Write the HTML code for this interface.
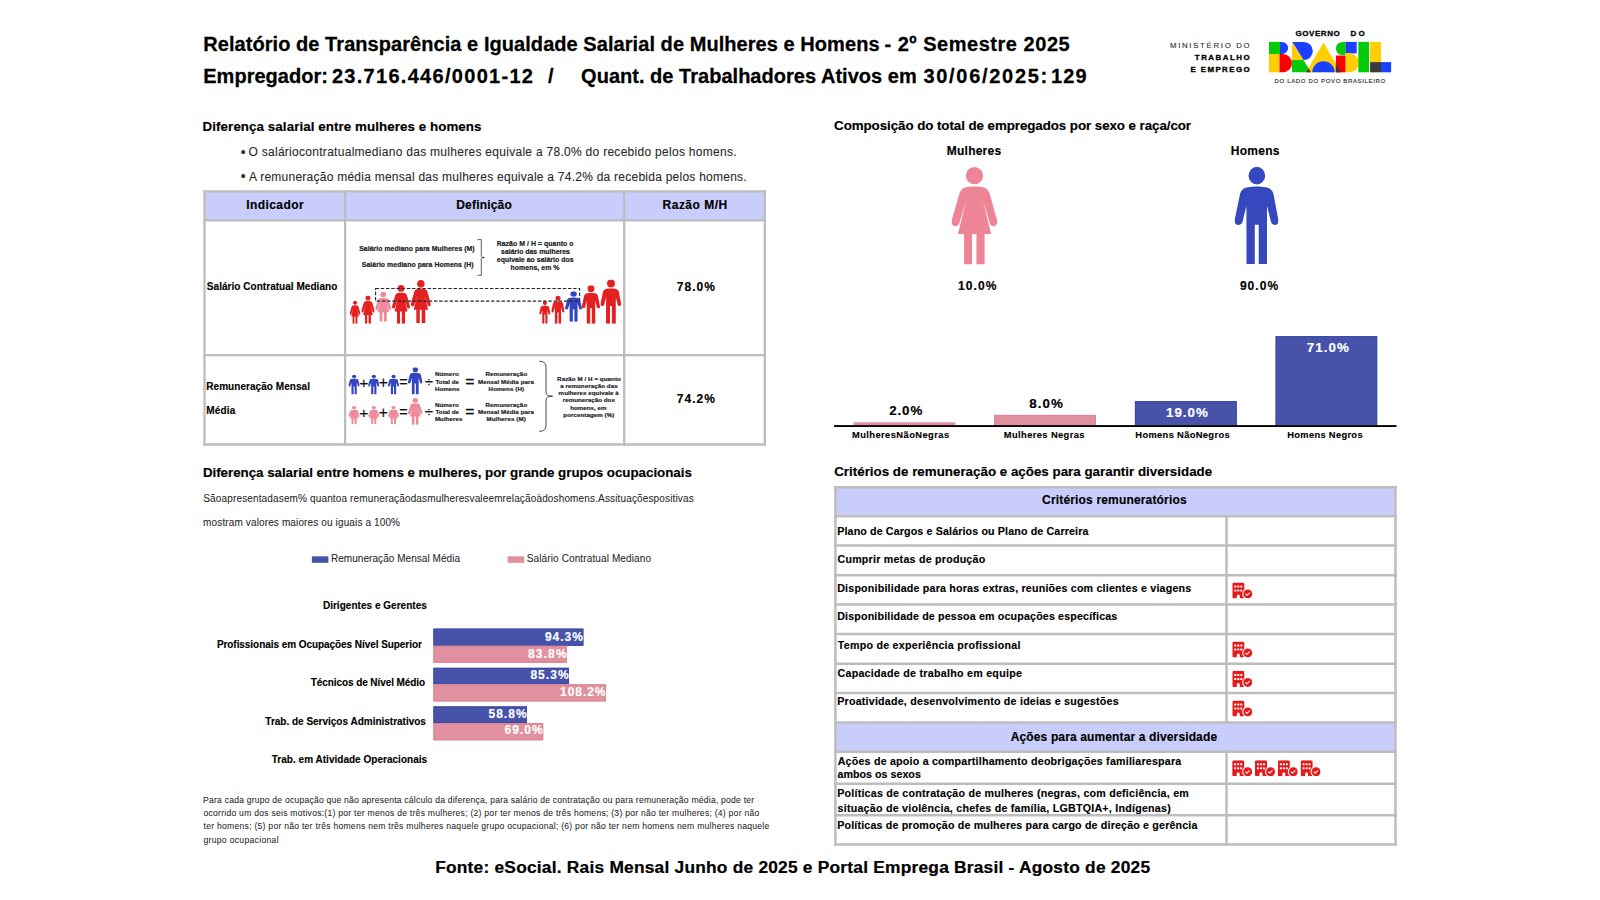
<!DOCTYPE html>
<html lang="pt-BR"><head><meta charset="utf-8"><title>Relatório de Transparência e Igualdade Salarial</title>
<style>
html,body{margin:0;padding:0;background:#fff;}
body{width:1600px;height:900px;position:relative;overflow:hidden;font-family:"Liberation Sans",Arial,sans-serif;}
.gfx{position:absolute;left:0;top:0;}
.t{position:absolute;white-space:pre;line-height:1;margin:0;padding:0;}
.b{font-weight:700;-webkit-text-stroke:0.013em currentColor}
.r{-webkit-text-stroke:0.008em currentColor}
</style></head><body>
<svg class="gfx" width="1600" height="900" viewBox="0 0 1600 900" role="img" aria-label="Relatório">
<defs>
<symbol id="woman" viewBox="951.42 167.05 45.85 97.45" preserveAspectRatio="none">
<ellipse cx="974.5" cy="175.65" rx="8.6" ry="8.6"/>
<path d="M 974.55 186.6 C 980.5 186.6 985 187.4 986.8 189 C 988.4 190.4 989.3 192.2 990 194.7 L 996.9 219.8 C 998.1 223.8 996.2 226.2 993.3 226.2 C 991.2 226.2 990.2 224.8 989.6 222.6 L 983 200.3 L 991.1 234 L 984.6 234 L 984.6 264.5 L 976.4 264.5 L 976.4 234 L 972 234 L 972 264.5 L 964.1 264.5 L 964.1 234 L 958 234 L 966.1 200.3 L 959.5 222.6 C 958.9 224.8 957.9 226.2 955.8 226.2 C 952.7 226.2 950.5 223.8 951.8 219.8 L 959.1 194.7 C 959.8 192.2 960.7 190.4 962.3 189 C 964.1 187.4 968.6 186.6 974.55 186.6 Z"/>
</symbol>
<symbol id="man" viewBox="1234.50 166.85 44.01 97.05" preserveAspectRatio="none">
<ellipse cx="1256.85" cy="175.65" rx="8.3" ry="8.8"/>
<path d="M 1256.75 186.6 C 1263.5 186.6 1268.5 187.6 1270.6 189.3 C 1272.4 190.7 1273.2 192.6 1273.7 195.2 L 1278.4 220 C 1279 223.2 1277.2 224.9 1274.9 224.9 C 1272.8 224.9 1271.4 223.8 1270.9 221.6 L 1267 205.8 L 1267 263.9 L 1258.7 263.9 L 1258.7 224.8 L 1254.8 224.8 L 1254.8 263.9 L 1246.45 263.9 L 1246.45 205.8 L 1242.6 221.6 C 1242.1 223.8 1240.7 224.9 1238.6 224.9 C 1236.3 224.9 1234 223.2 1234.6 220 L 1239.8 195.2 C 1240.3 192.6 1241.1 190.7 1242.9 189.3 C 1245 187.6 1250 186.6 1256.75 186.6 Z"/>
</symbol>
<symbol id="bcc" viewBox="0 0 640 512">
<path fill="#e51a1a" d="M48 0 H336 Q384 0 384 48 V464 Q384 512 336 512 H240 V432 Q240 384 192 384 Q144 384 144 432 V512 H48 Q0 512 0 464 V48 Q0 0 48 0 Z"/>
<g fill="#fff"><rect x="64" y="96" width="64" height="64" rx="16"/><rect x="160" y="96" width="64" height="64" rx="16"/><rect x="256" y="96" width="64" height="64" rx="16"/><rect x="64" y="224" width="64" height="64" rx="16"/><rect x="160" y="224" width="64" height="64" rx="16"/><rect x="256" y="224" width="64" height="64" rx="16"/></g>
<circle cx="496" cy="368" r="177" fill="#fff"/>
<circle cx="496" cy="368" r="144" fill="#e51a1a"/>
<path d="M428 372 L468 412 L552 336" fill="none" stroke="#fff" stroke-width="34" stroke-linecap="round" stroke-linejoin="round"/>
</symbol>
</defs>
<rect x="204.5" y="191.3" width="560.4" height="29" fill="#c8cdfb"/>
<g stroke="#bdbdbd" stroke-width="2.3" fill="none">
<path d="M203.4 191.35H766"/>
<path d="M203.4 220.3H766"/>
<path d="M203.4 355.2H766"/>
<path d="M203.4 444.5H766"/>
<path d="M204.5 190.2V445.65"/>
<path d="M345.1 190.2V445.65"/>
<path d="M624.2 190.2V445.65"/>
<path d="M764.85 190.2V445.65"/>
</g>
<rect x="835.4" y="487.3" width="560" height="28.9" fill="#c8cdfb"/>
<rect x="835.4" y="722.5" width="560" height="29.3" fill="#c8cdfb"/>
<g stroke="#bdbdbd" stroke-width="2.5" fill="none">
<path d="M834.15 487.3H1397"/>
<path d="M834.15 516.2H1397"/>
<path d="M834.15 545.55H1397"/>
<path d="M834.15 575.2H1397"/>
<path d="M834.15 604.55H1397"/>
<path d="M834.15 634.05H1397"/>
<path d="M834.15 663.8H1397"/>
<path d="M834.15 693.05H1397"/>
<path d="M834.15 722.5H1397"/>
<path d="M834.15 751.85H1397"/>
<path d="M834.15 783.7H1397"/>
<path d="M834.15 815.3H1397"/>
<path d="M834.15 844.6H1397"/>
<path d="M835.4 486.15V845.85"/>
<path d="M1395.45 486.15V845.85"/>
<path d="M1226.5 516.2V722.5M1226.5 751.85V844.6"/>
</g>
<use href="#bcc" x="1232.3" y="582.4" width="20" height="16"/>
<use href="#bcc" x="1232.3" y="641.4" width="20" height="16"/>
<use href="#bcc" x="1232.3" y="670.9" width="20" height="16"/>
<use href="#bcc" x="1232.3" y="700.4" width="20" height="16"/>
<use href="#bcc" x="1232.2" y="760.2" width="20" height="16"/>
<use href="#bcc" x="1255.0" y="760.2" width="20" height="16"/>
<use href="#bcc" x="1277.8" y="760.2" width="20" height="16"/>
<use href="#bcc" x="1300.6" y="760.2" width="20" height="16"/>
<rect x="853.4" y="422.3" width="101.85" height="2.90" fill="#e0909e"/>
<rect x="994.1" y="414.9" width="101.80" height="10.30" fill="#e0909e"/>
<path d="M994.6 425.2V415.4H1095.4V425.2" fill="none" stroke="#db8494" stroke-width="1"/>
<rect x="1134.9" y="401.1" width="101.90" height="24.10" fill="#4653a9"/>
<path d="M1135.4 425.2V401.6H1236.3V425.2" fill="none" stroke="#3b4aa6" stroke-width="1"/>
<rect x="1275.6" y="336.1" width="101.60" height="89.10" fill="#4653a9"/>
<path d="M1276.1 425.2V336.6H1376.7V425.2" fill="none" stroke="#3b4aa6" stroke-width="1"/>
<rect x="834.1" y="425.1" width="562.4" height="1.9" fill="#000"/>
<use href="#woman" x="951.42" y="167.05" width="45.85" height="97.45" fill="#ee8596"/>
<use href="#man" x="1234.50" y="166.85" width="44.01" height="97.05" fill="#3548be"/>
<rect x="433.4" y="628.6" width="150.0" height="17.2" fill="#4653a9"/>
<rect x="433.9" y="629.1" width="149.0" height="16.2" fill="none" stroke="#3b4aa6" stroke-width="1"/>
<rect x="433.4" y="645.8" width="133.6" height="17.0" fill="#e0909e"/>
<rect x="433.9" y="646.3" width="132.6" height="16.0" fill="none" stroke="#db8494" stroke-width="1"/>
<rect x="433.4" y="667.8" width="135.6" height="16.5" fill="#4653a9"/>
<rect x="433.9" y="668.3" width="134.6" height="15.5" fill="none" stroke="#3b4aa6" stroke-width="1"/>
<rect x="433.4" y="684.3" width="172.5" height="17.1" fill="#e0909e"/>
<rect x="433.9" y="684.8" width="171.5" height="16.1" fill="none" stroke="#db8494" stroke-width="1"/>
<rect x="433.4" y="706.4" width="93.6" height="16.7" fill="#4653a9"/>
<rect x="433.9" y="706.9" width="92.6" height="15.7" fill="none" stroke="#3b4aa6" stroke-width="1"/>
<rect x="433.4" y="723.1" width="109.8" height="17.2" fill="#e0909e"/>
<rect x="433.9" y="723.6" width="108.8" height="16.2" fill="none" stroke="#db8494" stroke-width="1"/>
<rect x="311.9" y="556.3" width="16.5" height="6.5" fill="#4653a9"/>
<rect x="507.6" y="556.3" width="16.5" height="6.5" fill="#e0909e"/>
<use href="#woman" x="349.6" y="300.7" width="10.80" height="23.05" fill="#e42020"/>
<use href="#woman" x="361.25" y="295.4" width="13.35" height="28.35" fill="#e42020"/>
<use href="#woman" x="375.2" y="291.9" width="16.05" height="29.80" fill="#ee8a9c"/>
<use href="#woman" x="392" y="285" width="18.00" height="38.75" fill="#e42020"/>
<use href="#woman" x="410.8" y="280" width="20.00" height="43.30" fill="#e42020"/>
<use href="#man" x="539.2" y="301" width="11.20" height="22.75" fill="#e42020"/>
<use href="#man" x="551.25" y="295.7" width="13.35" height="28.05" fill="#e42020"/>
<use href="#man" x="565" y="291.25" width="17.00" height="30.45" fill="#3346c0"/>
<use href="#man" x="581.8" y="285.2" width="18.20" height="38.55" fill="#e42020"/>
<use href="#man" x="600.4" y="279.6" width="20.85" height="44.15" fill="#e42020"/>
<rect x="375.6" y="288.55" width="204" height="12.55" fill="none" stroke="#262626" stroke-width="1.1" stroke-dasharray="3.4 1.8"/>
<path d="M477.5 239.6H481.3V256.3Q481.3 257.5 484.6 257.5Q481.3 257.5 481.3 258.7V275.3H477.5" fill="none" stroke="#333" stroke-width="0.8"/>
<use href="#man" x="348.4" y="374.7" width="11.3" height="19.7" fill="#3346c0"/>
<use href="#woman" x="348.4" y="406" width="11.3" height="18.2" fill="#ee8a9c"/>
<use href="#man" x="368.1" y="374.7" width="11.3" height="19.7" fill="#3346c0"/>
<use href="#woman" x="368.1" y="406" width="11.3" height="18.2" fill="#ee8a9c"/>
<use href="#man" x="387.8" y="374.7" width="11.3" height="19.7" fill="#3346c0"/>
<use href="#woman" x="387.8" y="406" width="11.3" height="18.2" fill="#ee8a9c"/>
<use href="#man" x="407.9" y="367.2" width="14.6" height="27.2" fill="#3346c0"/>
<use href="#woman" x="407.9" y="398.1" width="14.6" height="26.7" fill="#ee8a9c"/>
<path d="M539.3 361.2Q546 361.2 546 367V392.5Q546 396.2 552.6 396.2Q546 396.2 546 400V425.6Q546 431.4 539.3 431.4" fill="none" stroke="#333" stroke-width="0.9"/>
</svg>
<svg class="gfx" width="1600" height="900" viewBox="0 0 1600 900" role="img" aria-label="Governo do Brasil">
<rect x="1269" y="41.9" width="11" height="12.1" fill="#04cb08"/>
<rect x="1269" y="54" width="10.6" height="18.3" fill="#ffce03"/>
<path d="M1280 41.9H1282.1A6.05 6.05 0 0 1 1282.1 54H1280Z" fill="#1b3fff"/>
<path d="M1279.5 54H1282.85A9.15 9.15 0 0 1 1282.85 72.3H1279.5Z" fill="#ff0000"/>
<path d="M1292 42.2L1303.5 60.1H1292Z" fill="#ffce03"/>
<path d="M1292.3 41.9H1303.7A9.1 9.1 0 0 1 1303.7 60.1H1303.6Z" fill="#1b3fff"/>
<path d="M1292 60.1H1303.4L1311 72.3H1292Z" fill="#04cb08"/>
<path d="M1323.5 42.4L1341 72.3H1306Z" fill="#ffce03"/>
<path d="M1308.4 68.2L1311 72.3H1306Z" fill="#3b3b3b"/>
<path d="M1312.3 72.3A11.2 11.2 0 0 1 1334.7 72.3Z" fill="#1b3fff"/>
<path d="M1345.6 41.9V55.06H1342.5A6.58 6.58 0 0 1 1342.5 41.9Z" fill="#04cb08"/>
<rect x="1345.6" y="41.9" width="11.1" height="11.5" fill="#1b3fff"/>
<rect x="1335.9" y="55.5" width="9.8" height="16.8" fill="#ff0000"/>
<path d="M1335.9 63.6L1341 72.3H1335.9Z" fill="#3b3b3b"/>
<path d="M1345.6 53.1H1349.3A9.6 9.6 0 0 1 1349.3 72.3H1345.6Z" fill="#ffce03"/>
<rect x="1358.3" y="41.9" width="10.7" height="30.4" fill="#04cb08"/>
<rect x="1370.1" y="41.9" width="10.9" height="20.2" fill="#ffce03"/>
<rect x="1370.1" y="62.1" width="10.9" height="10.2" fill="#3b3b3b"/>
<rect x="1381" y="62.1" width="10.1" height="10.2" fill="#1b3fff"/>
</svg>

<div class="t b" style="left:203.25px;top:34px;font-size:20px;color:#000000;letter-spacing:0.057px;">Relatório de Transparência e Igualdade Salarial de Mulheres e Homens</div>
<div class="t b" style="left:884.38px;top:34px;font-size:20px;color:#000000;letter-spacing:0.53px;">- 2º Semestre 2025</div>
<div class="t b" style="left:203.25px;top:66px;font-size:20px;color:#000000;letter-spacing:0.02px;">Empregador:</div>
<div class="t b" style="left:331.88px;top:66px;font-size:20px;color:#000000;letter-spacing:1.298px;">23.716.446/0001-12</div>
<div class="t b" style="left:548px;top:66px;font-size:20px;color:#000000;">/</div>
<div class="t b" style="left:581.08px;top:66px;font-size:20px;color:#000000;letter-spacing:0.022px;">Quant. de Trabalhadores Ativos em</div>
<div class="t b" style="left:923.39px;top:66px;font-size:20px;color:#000000;letter-spacing:1.711px;">30/06/2025:</div>
<div class="t b" style="left:1051.05px;top:66px;font-size:20px;color:#000000;letter-spacing:1.089px;">129</div>
<div class="t b" style="left:202.62px;top:120px;font-size:13.33px;color:#000000;letter-spacing:0.081px;">Diferença salarial entre mulheres e homens</div>
<div class="t b" style="left:834.1px;top:119px;font-size:13.33px;color:#000000;letter-spacing:-0.058px;">Composição do total de empregados por sexo e raça/cor</div>
<div class="t b" style="left:202.88px;top:466px;font-size:13.33px;color:#000000;letter-spacing:-0.019px;">Diferença salarial entre homens e mulheres, por grande grupos ocupacionais</div>
<div class="t b" style="left:834.2px;top:465px;font-size:13.33px;color:#000000;letter-spacing:0.016px;">Critérios de remuneração e ações para garantir diversidade</div>
<div class="t r" style="left:240.7px;top:146px;font-size:13.766px;color:#2a2a2a;">•</div>
<div class="t r" style="left:248.44px;top:146px;font-size:12px;color:#2a2a2a;letter-spacing:0.286px;">O saláriocontratualmediano das mulheres equivale a 78.0% do recebido pelos homens.</div>
<div class="t r" style="left:240.7px;top:170px;font-size:13.766px;color:#2a2a2a;">•</div>
<div class="t r" style="left:249px;top:171px;font-size:12px;color:#2a2a2a;letter-spacing:0.248px;">A remuneração média mensal das mulheres equivale a 74.2% da recebida pelos homens.</div>
<div class="t b" style="left:246.15px;top:199px;font-size:12px;color:#000000;letter-spacing:0.439px;">Indicador</div>
<div class="t b" style="left:456.25px;top:199px;font-size:12px;color:#000000;letter-spacing:0.187px;">Definição</div>
<div class="t b" style="left:662.55px;top:199px;font-size:12px;color:#000000;letter-spacing:0.496px;">Razão M/H</div>
<div class="t b" style="left:206.85px;top:282px;font-size:10px;color:#000000;letter-spacing:0.038px;">Salário Contratual Mediano</div>
<div class="t b" style="left:206.28px;top:382px;font-size:10px;color:#000000;letter-spacing:0.051px;">Remuneração Mensal</div>
<div class="t b" style="left:206.28px;top:406px;font-size:10px;color:#000000;letter-spacing:0.155px;">Média</div>
<div class="t b" style="left:676.8px;top:281px;font-size:12px;color:#000000;letter-spacing:1.042px;">78.0%</div>
<div class="t b" style="left:676.8px;top:393px;font-size:12px;color:#000000;letter-spacing:1.042px;">74.2%</div>
<div class="t b" style="left:359.21px;top:246px;font-size:6.9px;color:#1c1c28;letter-spacing:0.042px;-webkit-text-stroke:0.2px #1c1c28;">Salário mediano para Mulheres (M)</div>
<div class="t b" style="left:361.81px;top:262px;font-size:6.9px;color:#1c1c28;letter-spacing:0.049px;-webkit-text-stroke:0.2px #1c1c28;">Salário mediano para Homens (H)</div>
<div class="t b" style="left:496.66px;top:241px;font-size:6.9px;color:#1c1c28;letter-spacing:0.059px;-webkit-text-stroke:0.2px #1c1c28;">Razão M / H = quanto o</div>
<div class="t b" style="left:501.06px;top:249px;font-size:6.9px;color:#1c1c28;letter-spacing:0.014px;-webkit-text-stroke:0.2px #1c1c28;">salário das mulheres</div>
<div class="t b" style="left:496.85px;top:257px;font-size:6.9px;color:#1c1c28;letter-spacing:0.041px;-webkit-text-stroke:0.2px #1c1c28;">equivale ao salário dos</div>
<div class="t b" style="left:510.56px;top:265px;font-size:6.9px;color:#1c1c28;letter-spacing:0.06px;-webkit-text-stroke:0.2px #1c1c28;">homens, em %</div>
<div class="t b" style="left:434.88px;top:371px;font-size:6.15px;color:#1c1c28;letter-spacing:0.117px;-webkit-text-stroke:0.2px #1c1c28;">Número</div>
<div class="t b" style="left:435.44px;top:379px;font-size:6.15px;color:#1c1c28;letter-spacing:0.074px;-webkit-text-stroke:0.2px #1c1c28;">Total de</div>
<div class="t b" style="left:434.88px;top:386px;font-size:6.15px;color:#1c1c28;letter-spacing:0.069px;-webkit-text-stroke:0.2px #1c1c28;">Homens</div>
<div class="t b" style="left:485.52px;top:371px;font-size:6.15px;color:#1c1c28;letter-spacing:0.1px;-webkit-text-stroke:0.2px #1c1c28;">Remuneração</div>
<div class="t b" style="left:478.02px;top:379px;font-size:6.15px;color:#1c1c28;letter-spacing:0.076px;-webkit-text-stroke:0.2px #1c1c28;">Mensal Média para</div>
<div class="t b" style="left:488.62px;top:386px;font-size:6.15px;color:#1c1c28;letter-spacing:0.102px;-webkit-text-stroke:0.2px #1c1c28;">Homens (H)</div>
<div class="t b" style="left:434.88px;top:402px;font-size:6.15px;color:#1c1c28;letter-spacing:0.117px;-webkit-text-stroke:0.2px #1c1c28;">Número</div>
<div class="t b" style="left:435.44px;top:409px;font-size:6.15px;color:#1c1c28;letter-spacing:0.074px;-webkit-text-stroke:0.2px #1c1c28;">Total de</div>
<div class="t b" style="left:434.88px;top:416px;font-size:6.15px;color:#1c1c28;letter-spacing:0.087px;-webkit-text-stroke:0.2px #1c1c28;">Mulheres</div>
<div class="t b" style="left:485.52px;top:402px;font-size:6.15px;color:#1c1c28;letter-spacing:0.1px;-webkit-text-stroke:0.2px #1c1c28;">Remuneração</div>
<div class="t b" style="left:478.02px;top:409px;font-size:6.15px;color:#1c1c28;letter-spacing:0.076px;-webkit-text-stroke:0.2px #1c1c28;">Mensal Média para</div>
<div class="t b" style="left:486.43px;top:416px;font-size:6.15px;color:#1c1c28;letter-spacing:0.141px;-webkit-text-stroke:0.2px #1c1c28;">Mulheres (M)</div>
<div class="t b" style="left:557.12px;top:376px;font-size:6.15px;color:#1c1c28;letter-spacing:0.093px;-webkit-text-stroke:0.2px #1c1c28;">Razão M / H = quanto</div>
<div class="t b" style="left:560.17px;top:383px;font-size:6.15px;color:#1c1c28;letter-spacing:0.094px;-webkit-text-stroke:0.2px #1c1c28;">a remuneração das</div>
<div class="t b" style="left:558.62px;top:390px;font-size:6.15px;color:#1c1c28;letter-spacing:0.076px;-webkit-text-stroke:0.2px #1c1c28;">mulheres equivale à</div>
<div class="t b" style="left:562.73px;top:397px;font-size:6.15px;color:#1c1c28;letter-spacing:0.067px;-webkit-text-stroke:0.2px #1c1c28;">remuneração dos</div>
<div class="t b" style="left:570.23px;top:405px;font-size:6.15px;color:#1c1c28;letter-spacing:0.054px;-webkit-text-stroke:0.2px #1c1c28;">homens, em</div>
<div class="t b" style="left:563.33px;top:412px;font-size:6.15px;color:#1c1c28;letter-spacing:0.085px;-webkit-text-stroke:0.2px #1c1c28;">porcentagem (%)</div>
<div class="t b" style="left:946.85px;top:145px;font-size:12px;color:#000000;letter-spacing:0.222px;">Mulheres</div>
<div class="t b" style="left:1230.85px;top:145px;font-size:12px;color:#000000;letter-spacing:0.239px;">Homens</div>
<div class="t b" style="left:958.05px;top:280px;font-size:12px;color:#000000;letter-spacing:1.08px;">10.0%</div>
<div class="t b" style="left:1239.88px;top:280px;font-size:12px;color:#000000;letter-spacing:1.049px;">90.0%</div>
<div class="t b" style="left:889.16px;top:404px;font-size:13.33px;color:#000000;letter-spacing:0.903px;">2.0%</div>
<div class="t b" style="left:1029.33px;top:397px;font-size:13.33px;color:#000000;letter-spacing:1.049px;">8.0%</div>
<div class="t b" style="left:1165.99px;top:406px;font-size:13.33px;color:#ffffff;letter-spacing:1.018px;">19.0%</div>
<div class="t b" style="left:1306.84px;top:341px;font-size:13.33px;color:#ffffff;letter-spacing:1.055px;">71.0%</div>
<div class="t b" style="left:851.94px;top:431px;font-size:9.33px;color:#000000;letter-spacing:0.433px;">MulheresNãoNegras</div>
<div class="t b" style="left:1003.84px;top:431px;font-size:9.33px;color:#000000;letter-spacing:0.39px;">Mulheres Negras</div>
<div class="t b" style="left:1135.34px;top:431px;font-size:9.33px;color:#000000;letter-spacing:0.342px;">Homens NãoNegros</div>
<div class="t b" style="left:1287.19px;top:431px;font-size:9.33px;color:#000000;letter-spacing:0.321px;">Homens Negros</div>
<div class="t r" style="left:203.31px;top:494px;font-size:10px;color:#2a2a2a;letter-spacing:0.146px;">Sãoapresentadasem% quantoa remuneraçãodasmulheresvaleemrelaçãoàdoshomens.Assituaçõespositivas</div>
<div class="t r" style="left:203.12px;top:518px;font-size:10px;color:#2a2a2a;letter-spacing:0.132px;">mostram valores maiores ou iguais a 100%</div>
<div class="t r" style="left:330.99px;top:554px;font-size:10px;color:#2a2a2a;letter-spacing:0.051px;">Remuneração Mensal Média</div>
<div class="t r" style="left:526.81px;top:554px;font-size:10px;color:#2a2a2a;letter-spacing:0.119px;">Salário Contratual Mediano</div>
<div class="t b" style="left:322.88px;top:601px;font-size:10px;color:#000000;letter-spacing:0.031px;">Dirigentes e Gerentes</div>
<div class="t b" style="left:216.88px;top:640px;font-size:10px;color:#000000;letter-spacing:-0.058px;">Profissionais em Ocupações Nível Superior</div>
<div class="t b" style="left:310.74px;top:678px;font-size:10px;color:#000000;letter-spacing:-0.078px;">Técnicos de Nível Médio</div>
<div class="t b" style="left:265.34px;top:717px;font-size:10px;color:#000000;letter-spacing:-0.007px;">Trab. de Serviços Administrativos</div>
<div class="t b" style="left:271.74px;top:755px;font-size:10px;color:#000000;letter-spacing:0.023px;">Trab. em Atividade Operacionais</div>
<div class="t b" style="left:544.88px;top:631px;font-size:12px;color:#ffffff;letter-spacing:0.999px;">94.3%</div>
<div class="t b" style="left:528.02px;top:648px;font-size:12px;color:#ffffff;letter-spacing:1.136px;">83.8%</div>
<div class="t b" style="left:530.42px;top:669px;font-size:12px;color:#ffffff;letter-spacing:1.036px;">85.3%</div>
<div class="t b" style="left:560.05px;top:686px;font-size:12px;color:#ffffff;letter-spacing:0.949px;">108.2%</div>
<div class="t b" style="left:488.49px;top:708px;font-size:12px;color:#ffffff;letter-spacing:1.021px;">58.8%</div>
<div class="t b" style="left:504.56px;top:724px;font-size:12px;color:#ffffff;letter-spacing:1.002px;">69.0%</div>
<div class="t r" style="left:203.06px;top:796px;font-size:8.6px;color:#2a2a2a;letter-spacing:0.211px;">Para cada grupo de ocupação que não apresenta cálculo da diferença, para salário de contratação ou para remuneração média, pode ter</div>
<div class="t r" style="left:203.44px;top:809px;font-size:8.6px;color:#2a2a2a;letter-spacing:0.25px;">ocorrido um dos seis motivos:(1) por ter menos de três mulheres; (2) por ter menos de três homens; (3) por não ter mulheres; (4) por não</div>
<div class="t r" style="left:203.62px;top:822px;font-size:8.6px;color:#2a2a2a;letter-spacing:0.256px;">ter homens; (5) por não ter três homens nem três mulheres naquele grupo ocupacional; (6) por não ter nem homens nem mulheres naquele</div>
<div class="t r" style="left:203.44px;top:836px;font-size:8.6px;color:#2a2a2a;letter-spacing:0.307px;">grupo ocupacional</div>
<div class="t b" style="left:435.17px;top:859px;font-size:17.33px;color:#000000;letter-spacing:0.226px;">Fonte: eSocial. Rais Mensal Junho de 2025 e Portal Emprega Brasil - Agosto de 2025</div>
<div class="t b" style="left:1042.06px;top:494px;font-size:12px;color:#000000;letter-spacing:0.166px;">Critérios remuneratórios</div>
<div class="t b" style="left:1010.75px;top:731px;font-size:12px;color:#000000;letter-spacing:0.132px;">Ações para aumentar a diversidade</div>
<div class="t b" style="left:837.21px;top:526px;font-size:10.67px;color:#000000;letter-spacing:0.143px;">Plano de Cargos e Salários ou Plano de Carreira</div>
<div class="t b" style="left:837.46px;top:554px;font-size:10.67px;color:#000000;letter-spacing:0.235px;">Cumprir metas de produção</div>
<div class="t b" style="left:837.21px;top:583px;font-size:10.67px;color:#000000;letter-spacing:0.207px;">Disponibilidade para horas extras, reuniões com clientes e viagens</div>
<div class="t b" style="left:837.21px;top:611px;font-size:10.67px;color:#000000;letter-spacing:0.168px;">Disponibilidade de pessoa em ocupações específicas</div>
<div class="t b" style="left:837.84px;top:640px;font-size:10.67px;color:#000000;letter-spacing:0.252px;">Tempo de experiência profissional</div>
<div class="t b" style="left:837.46px;top:668px;font-size:10.67px;color:#000000;letter-spacing:0.276px;">Capacidade de trabalho em equipe</div>
<div class="t b" style="left:837.21px;top:696px;font-size:10.67px;color:#000000;letter-spacing:0.226px;">Proatividade, desenvolvimento de ideias e sugestões</div>
<div class="t b" style="left:837.65px;top:756px;font-size:10.67px;color:#000000;letter-spacing:0.219px;">Ações de apoio a compartilhamento deobrigações familiarespara</div>
<div class="t b" style="left:837.59px;top:769px;font-size:10.67px;color:#000000;letter-spacing:0.025px;">ambos os sexos</div>
<div class="t b" style="left:837.21px;top:788px;font-size:10.67px;color:#000000;letter-spacing:0.228px;">Políticas de contratação de mulheres (negras, com deficiência, em</div>
<div class="t b" style="left:837.52px;top:803px;font-size:10.67px;color:#000000;letter-spacing:0.244px;">situação de violência, chefes de família, LGBTQIA+, Indígenas)</div>
<div class="t b" style="left:837.21px;top:820px;font-size:10.67px;color:#000000;letter-spacing:0.175px;">Políticas de promoção de mulheres para cargo de direção e gerência</div>
<div class="t r" style="left:1169.97px;top:42px;font-size:7.8px;color:#2e2e2e;letter-spacing:1.698px;-webkit-text-stroke:0.12px #2e2e2e;">MINISTÉRIO DO</div>
<div class="t b" style="left:1194.84px;top:54px;font-size:7.9px;color:#000;letter-spacing:1.511px;-webkit-text-stroke:0.35px #000;">TRABALHO</div>
<div class="t b" style="left:1190.4px;top:66px;font-size:7.9px;color:#000;letter-spacing:1.436px;-webkit-text-stroke:0.35px #000;">E EMPREGO</div>
<div class="t b" style="left:1295.44px;top:30px;font-size:8.0px;color:#000;letter-spacing:0.576px;-webkit-text-stroke:0.3px #000;">GOVERNO</div>
<div class="t b" style="left:1350.5px;top:30px;font-size:8.0px;color:#000;letter-spacing:2.285px;-webkit-text-stroke:0.3px #000;">DO</div>
<div class="t r" style="left:1274.56px;top:78px;font-size:6px;color:#2e2e2e;letter-spacing:0.652px;-webkit-text-stroke:0.15px #2e2e2e;">DO LADO DO POVO BRASILEIRO</div>
<div class="t r" style="left:359.37px;top:375px;font-size:15.523px;color:#111;-webkit-text-stroke:0.2px #111;">+</div>
<div class="t r" style="left:378.86px;top:375px;font-size:15.728px;color:#111;-webkit-text-stroke:0.2px #111;">+</div>
<div class="t r" style="left:399.13px;top:375px;font-size:14.298px;color:#111;-webkit-text-stroke:0.25px #111;">=</div>
<div class="t r" style="left:424.73px;top:374px;font-size:15.115px;color:#111;">÷</div>
<div class="t r" style="left:465.36px;top:374px;font-size:15.728px;color:#111;-webkit-text-stroke:0.3px #111;">=</div>
<div class="t r" style="left:359.37px;top:405px;font-size:15.523px;color:#111;-webkit-text-stroke:0.2px #111;">+</div>
<div class="t r" style="left:378.86px;top:405px;font-size:15.728px;color:#111;-webkit-text-stroke:0.2px #111;">+</div>
<div class="t r" style="left:399.13px;top:405px;font-size:14.298px;color:#111;-webkit-text-stroke:0.25px #111;">=</div>
<div class="t r" style="left:424.73px;top:404px;font-size:15.115px;color:#111;">÷</div>
<div class="t r" style="left:465.36px;top:404px;font-size:15.728px;color:#111;-webkit-text-stroke:0.3px #111;">=</div>
</body></html>
